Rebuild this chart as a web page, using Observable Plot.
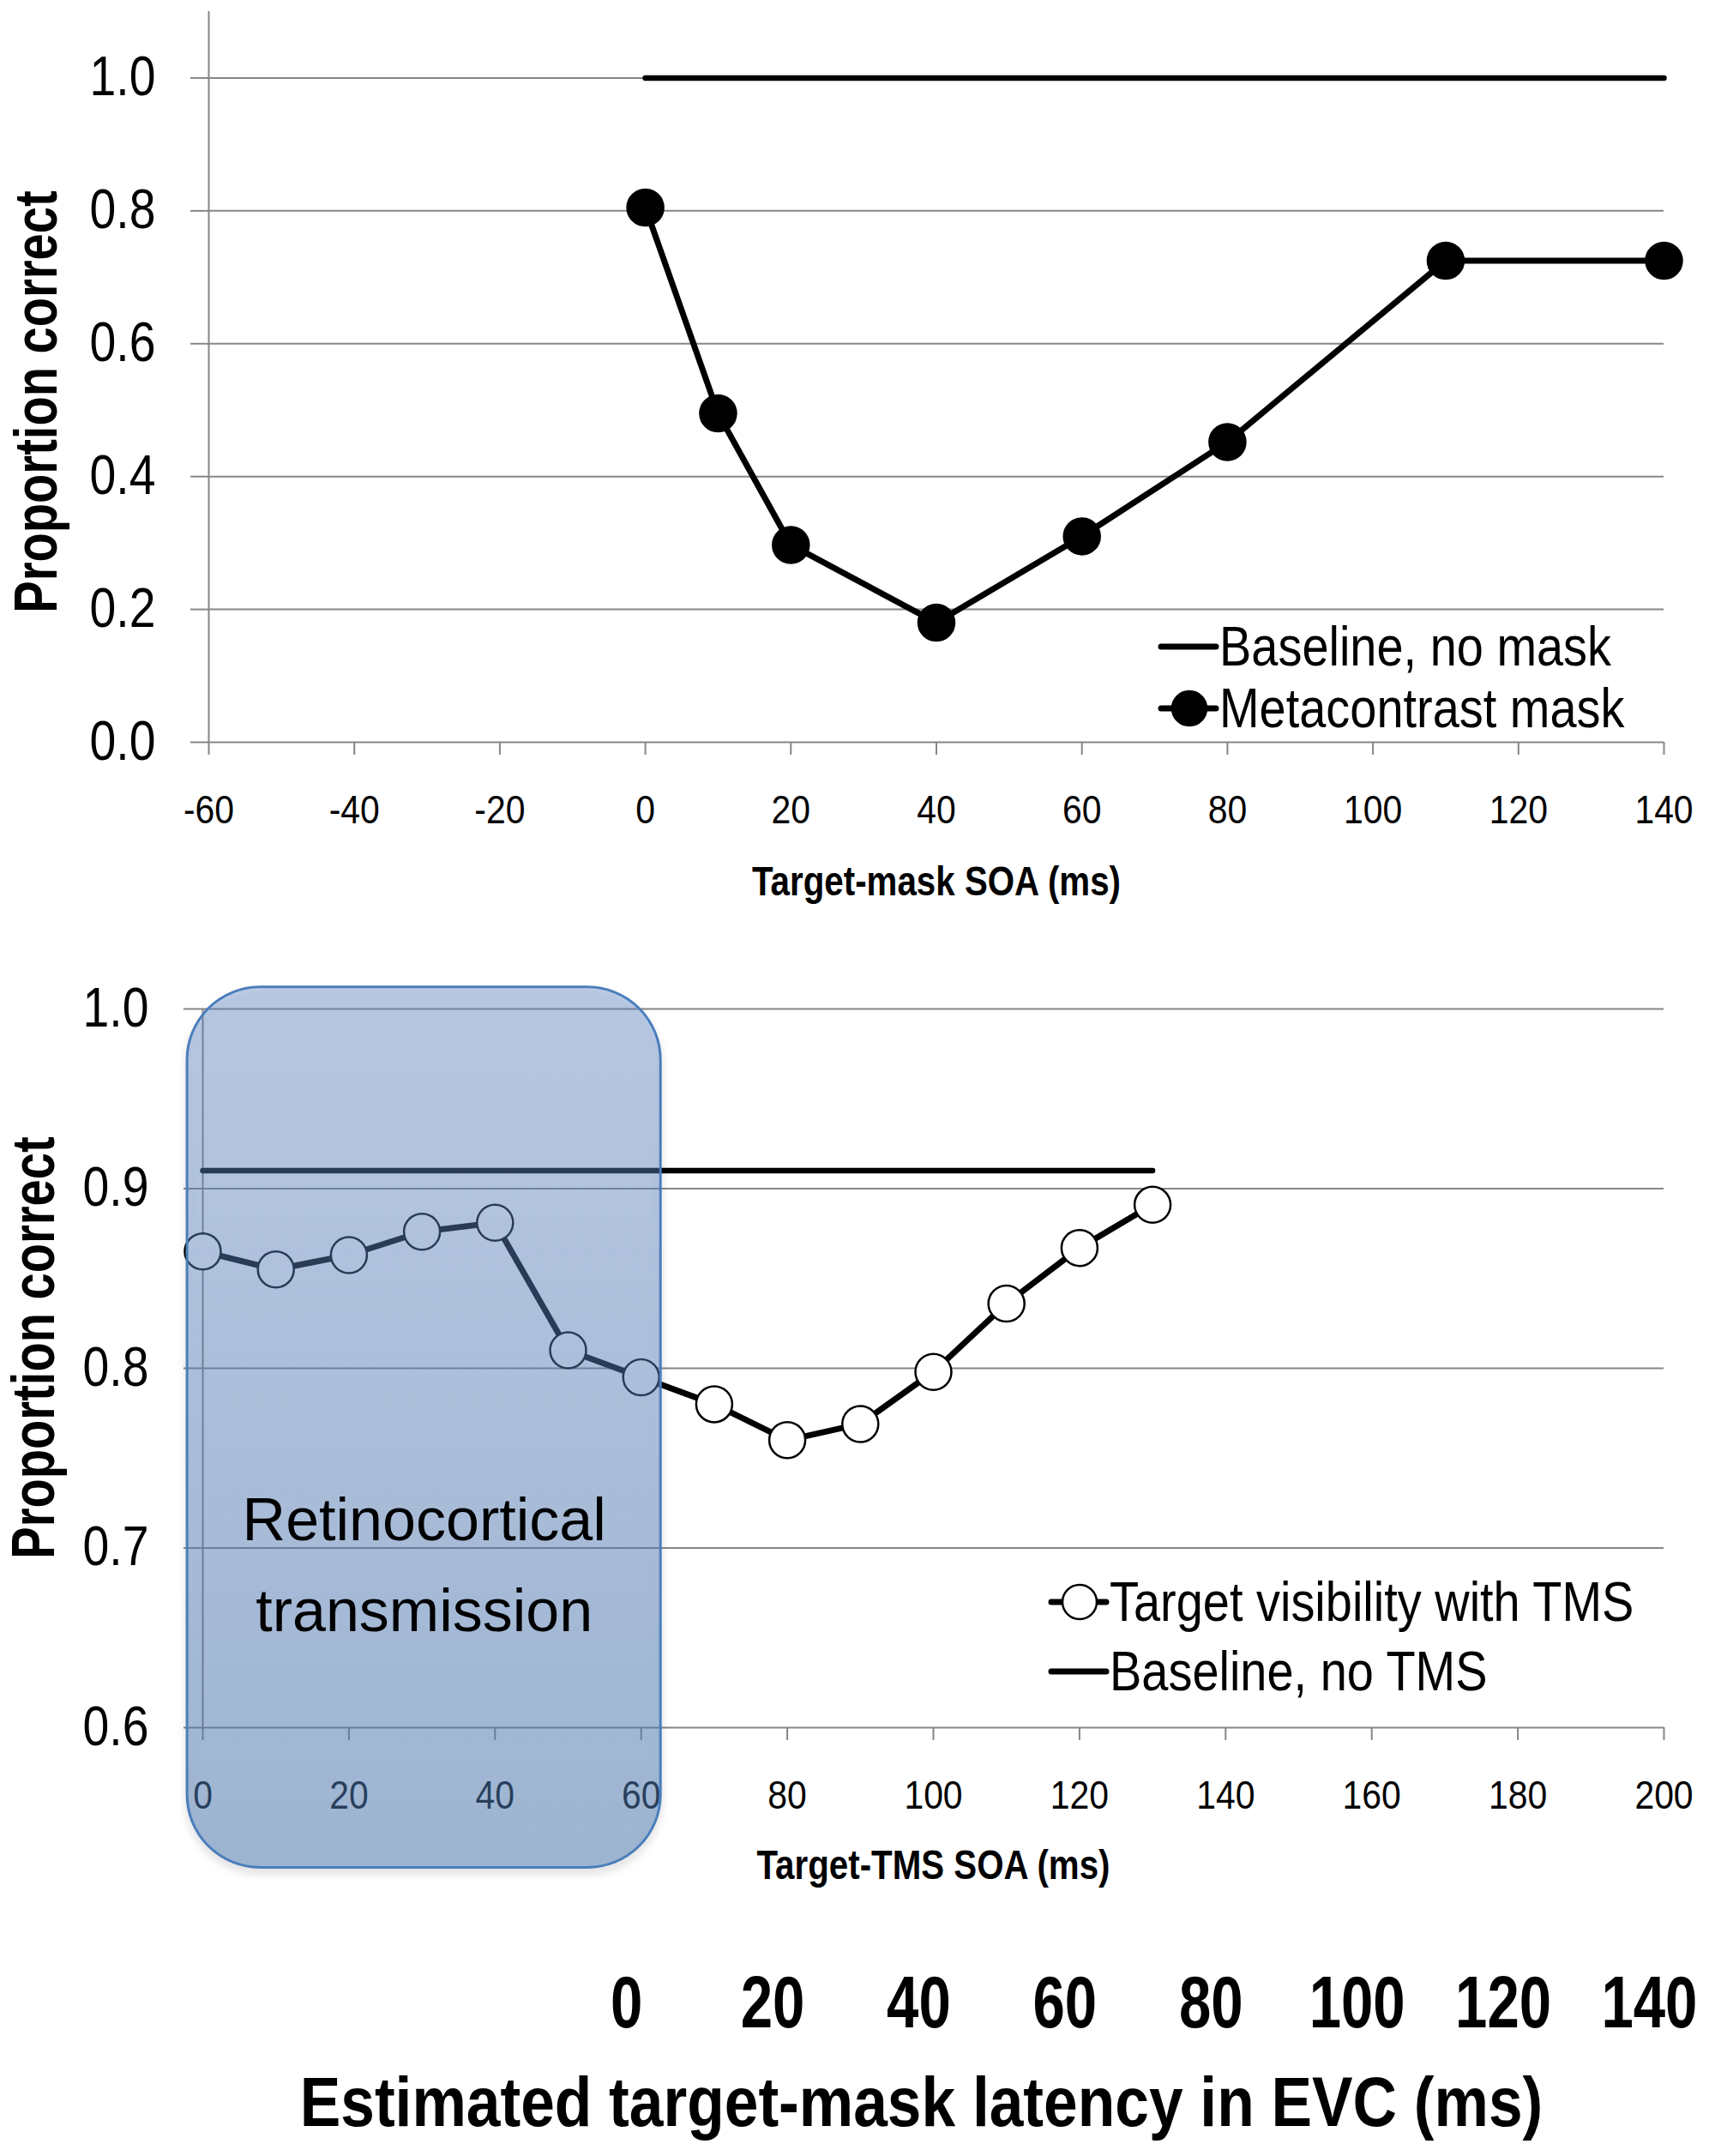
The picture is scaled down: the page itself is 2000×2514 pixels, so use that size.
<!DOCTYPE html>
<html>
<head>
<meta charset="utf-8">
<script src="https://cdn.jsdelivr.net/npm/d3@7"></script>
<script src="https://cdn.jsdelivr.net/npm/@observablehq/plot@0.6"></script>
<style>
  html, body { margin: 0; padding: 0; background: #fff; }
  #wrap { position: relative; width: 2000px; height: 2514px; background: #fff; overflow: hidden;
          font-family: "Liberation Sans", Arial, sans-serif; }
  .chart { position: absolute; left: 0; }
  .chart svg { overflow: visible; }
  .legend { position: absolute; display: flex; flex-direction: column; }
  .legend .row { display: flex; align-items: center; }
  .legend .row span { display: inline-block; font-size: 64px; line-height: 1; color: #000; white-space: nowrap;
                      transform: scaleX(0.874); transform-origin: left center; }
  .legend .row svg { flex: none; }
</style>
</head>
<body>
<svg width="0" height="0" style="position:absolute">
  <defs>
    <linearGradient id="retinoGrad" x1="0" y1="0" x2="0" y2="1">
      <stop offset="0" stop-color="rgb(102,141,207)" stop-opacity="0.40"></stop>
      <stop offset="1" stop-color="rgb(81,127,185)" stop-opacity="0.50"></stop>
    </linearGradient>
  </defs>
</svg>
<div id="wrap">
  <div id="top" class="chart" style="top:0px"></div>
  <div id="bottom" class="chart" style="top:1100px"></div>
  <div id="latency" class="chart" style="top:2230px"></div>
  <div id="legendTop" class="legend" style="left:1350px; top:718px"></div>
  <div id="legendBottom" class="legend" style="left:1222px; top:1827px"></div>
</div>
<script>
// ---------- data ----------
const maskSOA = [0, 10, 20, 40, 60, 80, 110, 140];
const maskCorrect = [0.805, 0.495, 0.297, 0.18, 0.31, 0.452, 0.725, 0.725];
const noMaskSOA = [0, 140];
const noMaskCorrect = [1.0, 1.0];
const topXTicks = [-60, -40, -20, 0, 20, 40, 60, 80, 100, 120, 140];
const topYTicks = [0, 0.2, 0.4, 0.6, 0.8, 1.0];

const tmsSOA = [0, 10, 20, 30, 40, 50, 60, 70, 80, 90, 100, 110, 120, 130];
const tmsCorrect = [0.865, 0.855, 0.863, 0.876, 0.881, 0.810, 0.795, 0.780, 0.760, 0.769, 0.798, 0.836, 0.867, 0.891];
const noTmsSOA = [0, 130];
const noTmsCorrect = [0.91, 0.91];
const bottomXTicks = [0, 20, 40, 60, 80, 100, 120, 140, 160, 180, 200];
const bottomYTicks = [0.6, 0.7, 0.8, 0.9, 1.0];

const latencyTicks = [0, 20, 40, 60, 80, 100, 120, 140];

const retinoRegion = [{x1: -2.1, x2: 62.7, y1: 0.522, y2: 1.012}];
const retinoLabel = ["Retinocortical\ntransmission"];
const retinoLabelPos = {x: 30.3, y: 0.695};

const sans = '"Liberation Sans", Arial, sans-serif';
const gridColor = "#868686";
const plain = d => String(d);

const topData = maskSOA.map((x, i) => ({x, y: maskCorrect[i]}));
const noMaskData = noMaskSOA.map((x, i) => ({x, y: noMaskCorrect[i]}));
const tmsData = tmsSOA.map((x, i) => ({x, y: tmsCorrect[i]}));
const noTmsData = noTmsSOA.map((x, i) => ({x, y: noTmsCorrect[i]}));

// horizontal condensing of text (the reference uses a narrow face), keyed by font size
const condenseBySize = {64: 0.865, 47: 0.87, 71: 0.79, 48: 0.84, 85: 0.79, 81: 0.88};
function condense(svg) {
  svg.querySelectorAll("text").forEach(t => {
    const fs = Math.round(parseFloat(getComputedStyle(t).fontSize));
    const f = condenseBySize[fs];
    if (!f) return;
    const tr = t.getAttribute("transform") || "";
    const x = parseFloat(t.getAttribute("x")) || 0;
    if (x === 0) t.setAttribute("transform", `${tr} scale(${f},1)`);
    else t.setAttribute("transform", `${tr} translate(${x},0) scale(${f},1) translate(${-x},0)`);
  });
}

// ---------- top chart ----------
const topPlot = Plot.plot({
  width: 2000, height: 1100,
  marginLeft: 243, marginRight: 60, marginTop: 13, marginBottom: 235,
  style: {fontFamily: sans, background: "white", color: "black", overflow: "visible"},
  x: {domain: [-60, 140]},
  y: {domain: [0, 1.1]},
  marks: [
    Plot.gridY(topYTicks, {stroke: gridColor, strokeOpacity: 1, strokeWidth: 2}),
    Plot.ruleX([-60], {stroke: gridColor, strokeWidth: 2}),
    Plot.axisY({ticks: topYTicks, tickFormat: d3.format(".1f"), tickSize: 21, tickPadding: 41,
      fontSize: 64, stroke: gridColor, strokeWidth: 2, fill: "black", label: null}),
    Plot.axisX({ticks: topXTicks, tickFormat: plain, tickSize: 15, tickPadding: 46, fontSize: 47,
      stroke: gridColor, strokeWidth: 2, fill: "black", label: null}),
    Plot.text(["Target-mask SOA (ms)"], {frameAnchor: "bottom", dy: 163, lineAnchor: "middle",
      fontSize: 48, fontWeight: "bold", fill: "black"}),
    Plot.text(["Proportion correct"], {frameAnchor: "left", dx: -200, dy: 29, rotate: -90,
      textAnchor: "middle", lineAnchor: "middle", fontSize: 71, fontWeight: "bold", fill: "black"}),
    Plot.line(noMaskData, {x: "x", y: "y", stroke: "black", strokeWidth: 6.5}),
    Plot.line(topData, {x: "x", y: "y", stroke: "black", strokeWidth: 7}),
    Plot.dot(topData, {x: "x", y: "y", r: 21.5, fill: "black", stroke: "black"})
  ]
});
document.getElementById("top").appendChild(topPlot);
condense(topPlot);

// ---------- bottom chart ----------
const bottomPlot = Plot.plot({
  width: 2000, height: 1130,
  marginLeft: 236, marginRight: 60, marginTop: 76, marginBottom: 216,
  style: {fontFamily: sans, background: "white", color: "black", overflow: "visible"},
  x: {domain: [0, 200]},
  y: {domain: [0.6, 1.0]},
  marks: [
    Plot.gridY(bottomYTicks, {stroke: gridColor, strokeOpacity: 1, strokeWidth: 2}),
    Plot.ruleX([0], {stroke: gridColor, strokeWidth: 2}),
    Plot.axisY({ticks: bottomYTicks, tickFormat: d3.format(".1f"), tickSize: 22, tickPadding: 41,
      fontSize: 64, stroke: gridColor, strokeWidth: 2, fill: "black", label: null}),
    Plot.axisX({ticks: bottomXTicks, tickFormat: plain, tickSize: 15, tickPadding: 46, fontSize: 47,
      stroke: gridColor, strokeWidth: 2, fill: "black", label: null}),
    Plot.text(["Target-TMS SOA (ms)"], {frameAnchor: "bottom", dy: 161, lineAnchor: "middle",
      fontSize: 48, fontWeight: "bold", fill: "black"}),
    Plot.text(["Proportion correct"], {frameAnchor: "left", dx: -196, dy: -24, rotate: -90,
      textAnchor: "middle", lineAnchor: "middle", fontSize: 71, fontWeight: "bold", fill: "black"}),
    Plot.line(noTmsData, {x: "x", y: "y", stroke: "black", strokeWidth: 6.5}),
    Plot.line(tmsData, {x: "x", y: "y", stroke: "black", strokeWidth: 7}),
    Plot.dot(tmsData, {x: "x", y: "y", r: 21, fill: "white", stroke: "black", strokeWidth: 2.5}),
    Plot.rect(retinoRegion, {x1: "x1", x2: "x2", y1: "y1", y2: "y2", rx: 85,
      fill: "#8fa9d3", stroke: "rgb(74,126,187)", strokeWidth: 3}),
    Plot.text(retinoLabel, {x: () => retinoLabelPos.x, y: () => retinoLabelPos.y,
      fontSize: 70, lineHeight: 1.51, lineAnchor: "middle", textAnchor: "middle", fill: "black"})
  ]
});
bottomPlot.querySelectorAll('g[aria-label="rect"] rect').forEach(r => {
  r.setAttribute("fill", "url(#retinoGrad)");
  r.style.filter = "drop-shadow(0px 6px 5px rgba(0,0,0,0.18))";
});
document.getElementById("bottom").appendChild(bottomPlot);
condense(bottomPlot);

// ---------- estimated latency axis ----------
const latencyPlot = Plot.plot({
  width: 2000, height: 284,
  marginLeft: 236, marginRight: 60, marginTop: 0, marginBottom: 224,
  style: {fontFamily: sans, background: "white", color: "black", overflow: "visible"},
  x: {domain: [-58, 142]},
  marks: [
    Plot.axisX({ticks: latencyTicks, tickFormat: plain, tickSize: 0, tickPadding: 13, fontSize: 85,
      fontWeight: "bold", fill: "black", label: null}),
    Plot.text(["Estimated target-mask latency in EVC (ms)"], {frameAnchor: "bottom", dx: -14, dy: 163,
      lineAnchor: "middle", fontSize: 81, fontWeight: "bold", fill: "black"})
  ]
});
document.getElementById("latency").appendChild(latencyPlot);
condense(latencyPlot);

// ---------- legends ----------
function sample(kind) {
  const ns = "http://www.w3.org/2000/svg";
  const s = document.createElementNS(ns, "svg");
  s.setAttribute("width", 72); s.setAttribute("height", 60);
  const l = document.createElementNS(ns, "line");
  l.setAttribute("x1", 4); l.setAttribute("x2", 68); l.setAttribute("y1", 30); l.setAttribute("y2", 30);
  l.setAttribute("stroke", "black"); l.setAttribute("stroke-width", 7); l.setAttribute("stroke-linecap", "round");
  s.appendChild(l);
  if (kind !== "line") {
    const c = document.createElementNS(ns, "circle");
    c.setAttribute("cx", 37); c.setAttribute("cy", 30); c.setAttribute("r", 20);
    c.setAttribute("fill", kind === "filled" ? "black" : "white");
    c.setAttribute("stroke", "black"); c.setAttribute("stroke-width", 2.5);
    s.appendChild(c);
  }
  return s;
}
function legend(id, rowHeight, items) {
  const el = document.getElementById(id);
  items.forEach(([kind, label]) => {
    const row = document.createElement("div");
    row.className = "row";
    row.style.height = rowHeight + "px";
    row.appendChild(sample(kind));
    const sp = document.createElement("span");
    sp.textContent = label;
    row.appendChild(sp);
    el.appendChild(row);
  });
}
legend("legendTop", 72, [["line", "Baseline, no mask"], ["filled", "Metacontrast mask"]]);
legend("legendBottom", 81, [["open", "Target visibility with TMS"], ["line", "Baseline, no TMS"]]);
</script>
</body>
</html>
